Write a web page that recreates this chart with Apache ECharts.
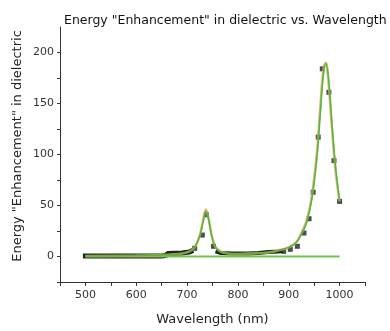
<!DOCTYPE html>
<html>
<head>
<meta charset="utf-8">
<script src="https://cdn.jsdelivr.net/npm/echarts@6/dist/echarts.min.js"></script>
<style>
  html, body { margin: 0; padding: 0; background: #fff; }
  #chart { width: 390px; height: 331px; }
</style>
</head>
<body>
<div id="chart"></div>
<script>
// measured points (square markers)
const measuredWl = [715, 730, 738, 752, 890, 903, 917, 930, 940, 948, 958, 966, 979, 989, 1000]
const measuredVal = [8, 21, 41, 10, 5, 7, 10, 23, 37, 63, 117, 184, 161, 94, 54]

// dense measured stretches, drawn as thick black runs
const denseLowWl = [495, 540, 600, 650, 658, 662, 690, 705, 712]
const denseLowVal = [0.5, 0.5, 0.5, 0.6, 1, 3, 3.5, 4.5, 6]
const denseMidWl = [756, 765, 790, 820, 840, 860, 880, 888]
const denseMidVal = [5, 3.5, 3, 3, 3.5, 4.5, 5, 5.5]

// fit curve (green) and second fit (orange)
const fitWl = [500, 600, 650, 690, 705, 715, 725, 732, 737, 742, 748, 755, 765, 780, 800, 830, 860, 880, 900, 915, 925, 935, 945, 955, 962, 968, 973, 978, 985, 992, 1000]
const fitVal = [0.5, 1, 1.5, 3, 5, 9, 20, 35, 44, 37, 21, 10, 5, 3, 2.5, 3, 4, 6, 9, 14, 22, 33, 55, 95, 140, 178, 189, 176, 130, 88, 55]
const orangeVal = [0.5, 1, 1.5, 3, 5, 9, 21, 37, 46, 38, 22, 10, 5, 3, 2.5, 3, 4, 6, 9, 14, 23, 35, 58, 100, 146, 182, 190, 172, 126, 85, 54]

// flat baseline
const baseWl = [500, 1000]
const baseVal = [0, 0]

const xTicks = [500, 600, 700, 800, 900, 1000]
const yTicks = [0, 50, 100, 150, 200]

const zip = (xs, ys) => xs.map((x, i) => [x, ys[i]])
const font = 'DejaVu Sans'

const chart = echarts.init(document.getElementById('chart'))

chart.setOption({
    animation: false,
    title: {
        text: 'Energy "Enhancement" in dielectric vs. Wavelength',
        left: 59,
        top: 9,
        textStyle: { fontFamily: font, fontSize: 12.5, fontWeight: 'normal', color: '#111' },
    },
    graphic: [
        {
            type: 'text',
            x: 18,
            y: 146,
            rotation: Math.PI / 2,
            style: {
                text: 'Energy "Enhancement" in dielectric',
                fontFamily: font, fontSize: 13, fill: '#222',
                align: 'center', verticalAlign: 'middle',
            },
        },
    ],
    grid: { left: 60, right: 25, top: 27, bottom: 46 },
    xAxis: {
        type: 'value',
        min: 450,
        max: 1050,
        interval: 50,
        name: 'Wavelength (nm)',
        nameLocation: 'middle',
        nameGap: 31,
        nameTextStyle: { fontFamily: font, fontSize: 13, color: '#222' },
        axisLine: { show: true, onZero: false, lineStyle: { color: '#333', width: 1 } },
        axisTick: { show: true, inside: false, length: 4, lineStyle: { color: '#333' } },
        axisLabel: {
            margin: 8, fontFamily: font, fontSize: 11, color: '#333',
            customValues: xTicks,
            formatter: v => String(v),
        },
        splitLine: { show: false },
    },
    yAxis: {
        type: 'value',
        min: -25,
        max: 225,
        interval: 25,
        axisLine: { show: true, onZero: false, lineStyle: { color: '#333', width: 1 } },
        axisTick: {
            show: true, inside: false, length: 3, lineStyle: { color: '#333' },
            customValues: [-25, 0, 25, 50, 75, 100, 125, 150, 175, 200],
        },
        axisLabel: {
            margin: 6, fontFamily: font, fontSize: 11, color: '#333',
            customValues: yTicks,
            formatter: v => String(v),
        },
        splitLine: { show: false },
    },
    series: [
        {
            type: 'line', data: zip(denseLowWl, denseLowVal), showSymbol: false,
            lineStyle: { color: '#222', width: 5 }, z: 2,
        },
        {
            type: 'line', data: zip(denseMidWl, denseMidVal), showSymbol: false,
            lineStyle: { color: '#222', width: 4 }, z: 2,
        },
        {
            type: 'scatter', data: zip(measuredWl, measuredVal),
            symbol: 'rect', symbolSize: 5, itemStyle: { color: '#222' }, z: 3,
        },
        {
            type: 'line', data: zip(baseWl, baseVal), showSymbol: false,
            lineStyle: { color: '#6cc44a', width: 2 }, z: 4,
        },
        {
            type: 'line', data: zip(fitWl, orangeVal), showSymbol: false, smooth: 0.4,
            lineStyle: { color: '#e0a060', width: 2.5, opacity: 0.8 }, z: 4,
        },
        {
            type: 'line', data: zip(fitWl, fitVal), showSymbol: false, smooth: 0.4,
            lineStyle: { color: '#4cbb3a', width: 1.5 }, z: 5,
        },
    ],
})
</script>
</body>
</html>
